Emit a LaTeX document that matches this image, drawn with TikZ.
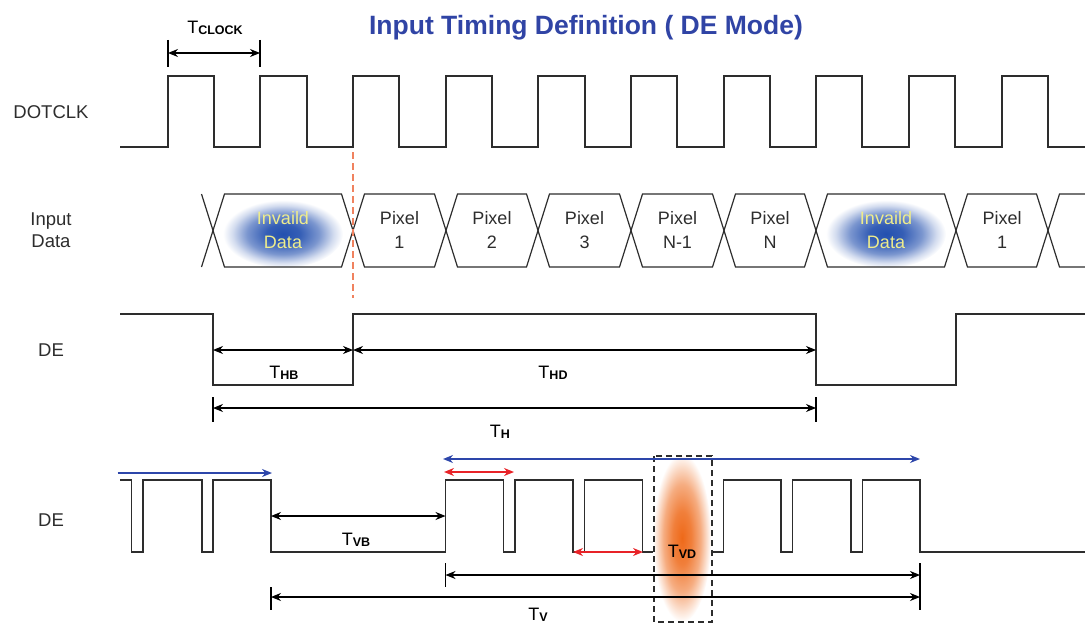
\documentclass[tikz,border=0pt]{standalone}
\usepackage{fontspec}
\setmainfont{Liberation Sans}
\usetikzlibrary{arrows.meta}
\definecolor{titleblue}{RGB}{48,68,165}
\definecolor{arrowblue}{RGB}{45,70,170}
\definecolor{arrowred}{RGB}{232,35,40}
\definecolor{glowblue}{RGB}{35,80,175}
\definecolor{gloworange}{RGB}{238,105,25}
\definecolor{edgeorange}{RGB}{240,130,95}
\definecolor{textyellow}{RGB}{238,236,140}
\definecolor{ink}{RGB}{45,45,45}
\pgfdeclareradialshading{blueglow}{\pgfpointorigin}{color(0bp)=(glowblue);color(7bp)=(glowblue!92!white);color(15bp)=(glowblue!60!white);color(21bp)=(glowblue!20!white);color(25bp)=(white);color(50bp)=(white)}
\pgfdeclareradialshading{orangeglow}{\pgfpointorigin}{color(0bp)=(gloworange);color(8bp)=(gloworange!85!white);color(16bp)=(gloworange!55!white);color(22bp)=(gloworange!18!white);color(25bp)=(white);color(50bp)=(white)}
\newcommand{\tsub}[1]{T\raisebox{-1pt}{\fontsize{12.5}{12.5}\selectfont\bfseries #1}}

\begin{document}
\begin{tikzpicture}[x=1pt,y=-1pt,>={Stealth[length=10pt,width=8pt]},
  wave/.style={draw=ink,line width=1.4pt},
  dim/.style={<->,draw=black,line width=1.1pt},
  tick/.style={draw=black,line width=1.1pt},
  sig label/.style={font=\fontsize{18.5}{22}\selectfont,text=ink,align=center},
  cell text/.style={font=\fontsize{18}{24}\selectfont,text=ink,align=center},
  bad text/.style={font=\fontsize{18}{24}\selectfont,text=textyellow,align=center},
  t label/.style={font=\fontsize{18}{20}\selectfont,text=black}]

  \useasboundingbox (0,0) rectangle (1085,626);

  \node[font=\fontsize{26.5}{30}\selectfont\bfseries,text=titleblue] (title) at (586,28) {Input Timing Definition ( DE Mode)};

  % signal names
  \node[sig label] (clk) at (51,112) {DOTCLK};
  \node[sig label] (data) at (51,230) {Input\\Data};
  \node[sig label] (de1) at (51,350) {DE};
  \node[sig label] (de2) at (51,520) {DE};

  % clock
  \draw[wave] (120,147) -| (168,76) -| (214,147) -| (260,76) -| (307,147) -| (353,76) -| (399,147)
    -| (446,76) -| (492,147) -| (538,76) -| (585,147) -| (631,76) -| (677,147) -| (724,76) -| (770,147)
    -| (816,76) -| (862,147) -| (909,76) -| (955,147) -| (1002,76) -| (1048,147) -- (1085,147);

  \coordinate (ck1) at (168,53);
  \coordinate (ck2) at (260,53);
  \draw[tick] (168,40) -- (168,67);
  \draw[tick] (260,40) -- (260,67);
  \draw[dim] (ck1) -- (ck2);
  \node[t label] (tclk) at (215,28) {\tsub{CLOCK}};

  % input data
  \shade[shading=blueglow] (283,234) ellipse [x radius=60pt, y radius=34pt];
  \shade[shading=blueglow] (886,234) ellipse [x radius=60pt, y radius=34pt];
  \foreach \a/\b in {213/353,353/446,446/538,538/631,631/724,724/816,816/956,956/1048}
    \draw[wave,line width=1.2pt] (\a,230.5) -- (\a+11.5,194) -- (\b-11.5,194) -- (\b,230.5) -- (\b-11.5,267) -- (\a+11.5,267) -- cycle;
  \draw[wave,line width=1.2pt] (201.5,194) -- (213,230.5) -- (201.5,267);
  \draw[wave,line width=1.2pt] (1085,194) -- (1059.5,194) -- (1048,230.5) -- (1059.5,267) -- (1085,267);

  \node[bad text] (bad1) at (283,230) {Invaild\\Data};
  \node[cell text] (p1) at (399.5,230) {Pixel\\1};
  \node[cell text] (p2) at (492,230) {Pixel\\2};
  \node[cell text] (p3) at (584.5,230) {Pixel\\3};
  \node[cell text] (pm) at (677.5,230) {Pixel\\N-1};
  \node[cell text] (pn) at (770,230) {Pixel\\N};
  \node[bad text] (bad2) at (886,230) {Invaild\\Data};
  \node[cell text] (q1) at (1002,230) {Pixel\\1};

  \draw[edgeorange,line width=1.3pt,dash pattern=on 7pt off 4pt] (353,152) -- (353,298);

  % DE, line timing
  \draw[wave] (120,314) -| (213,385) -| (353,314) -| (816,385) -| (956,314) -- (1085,314);

  \coordinate (hb1) at (213,350);
  \coordinate (hb2) at (353,350);
  \coordinate (hd2) at (816,350);
  \draw[dim] (hb1) -- (hb2);
  \draw[dim] (hb2) -- (hd2);
  \node[t label] (thb) at (284,373) {\tsub{HB}};
  \node[t label] (thd) at (553,373) {\tsub{HD}};

  \coordinate (h1) at (213,408);
  \coordinate (h2) at (816,408);
  \draw[tick] (213,397) -- (213,422);
  \draw[tick] (816,397) -- (816,422);
  \draw[dim] (h1) -- (h2);
  \node[t label] (th) at (500,432) {\tsub{H}};

  % DE, frame timing
  \draw[wave] (120,480) -| (131.5,552) -| (143,480) -| (202,552) -| (213,480) -| (271,552) -| (445.5,480)
    -| (503.5,552) -| (515,480) -| (573,552) -| (584.5,480) -| (642.5,552) -| (723.5,480) -| (781,552)
    -| (792.5,480) -| (851,552) -| (862.5,480) -| (920,552) -- (1085,552);

  \fill[white] (654,456) rectangle (712,622);
  \shade[shading=orangeglow] (682,538) ellipse [x radius=29pt, y radius=84pt];
  \draw[ink,line width=1.3pt,dash pattern=on 6pt off 4pt] (654,456) rectangle (712,622);

  \coordinate (vb1) at (271,516);
  \coordinate (vb2) at (445.5,516);
  \draw[dim] (vb1) -- (vb2);
  \node[t label] (tvb) at (356,540) {\tsub{VB}};

  \coordinate (vd1) at (445.5,575);
  \coordinate (vd2) at (920,575);
  \coordinate (v1) at (271,597);
  \coordinate (v2) at (920,597);
  \draw[tick] (445.5,563) -- (445.5,587);
  \draw[tick] (271,587) -- (271,610);
  \draw[tick] (920,563) -- (920,610);
  \draw[dim] (vd1) -- (vd2);
  \draw[dim] (v1) -- (v2);
  \node[t label] (tvd) at (682,552) {\tsub{VD}};
  \node[t label] (tv) at (538,615) {\tsub{V}};

  % coloured markers
  \coordinate (bl1) at (117.5,473);
  \coordinate (bl2) at (272,473);
  \coordinate (bt1) at (443,459);
  \coordinate (bt2) at (920,459);
  \draw[->,arrowblue,line width=1.6pt] (bl1) -- (bl2);
  \draw[<->,arrowblue,line width=1.6pt] (bt1) -- (bt2);
  \coordinate (ra1) at (444,472);
  \coordinate (ra2) at (514,472);
  \coordinate (rb1) at (573,552);
  \coordinate (rb2) at (643,552);
  \draw[<->,arrowred,line width=1.6pt] (ra1) -- (ra2);
  \draw[<->,arrowred,line width=1.6pt] (rb1) -- (rb2);
\end{tikzpicture}
\end{document}
